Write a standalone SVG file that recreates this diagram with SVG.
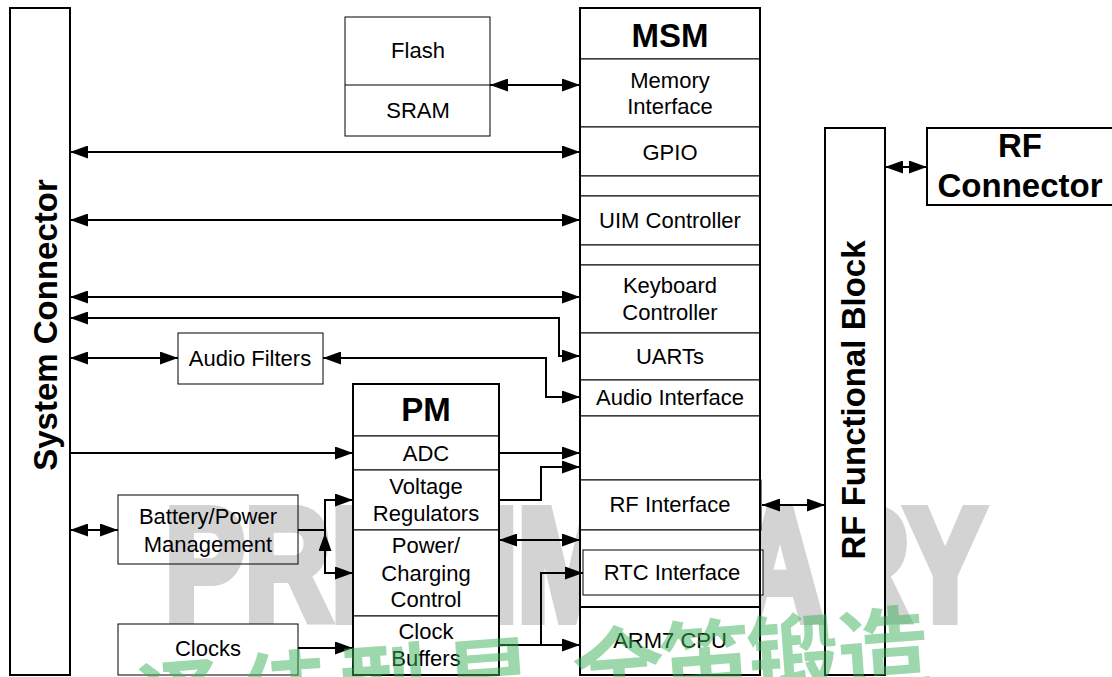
<svg xmlns="http://www.w3.org/2000/svg" width="1112" height="677" viewBox="0 0 1112 677">
<style>
.box{fill:#fff;stroke:#000;stroke-width:1}
.open{fill:none;stroke:#000;stroke-width:1}
.thick{fill:#fff;stroke:#000;stroke-width:2}
.frame{fill:none;stroke:#000;stroke-width:2}
.t{font-family:"Liberation Sans",Arial,sans-serif;font-size:22px;text-anchor:middle;fill:#000}
.b{font-weight:bold;font-size:33px}
.c{fill:none;stroke:#000;stroke-width:2}
.wm{font-family:"Liberation Sans",Arial,sans-serif;font-weight:bold;font-size:160px;fill:#d3d3d3;stroke:#d3d3d3;stroke-width:10;stroke-linejoin:miter}
.cn{font-family:"Noto Sans CJK SC",sans-serif;font-weight:bold;font-size:92px;fill:#3cb35a;opacity:0.5}
</style>
<defs>
<marker id="ah" markerUnits="userSpaceOnUse" markerWidth="18" markerHeight="13" refX="18" refY="6.5" orient="auto-start-reverse">
<path d="M0,0 L18,6.5 L0,13 z" fill="#000"/>
</marker>
</defs>
<rect width="1112" height="677" fill="#fff"/>
<text class="wm" x="165" y="620" textLength="820" lengthAdjust="spacingAndGlyphs">PRELIMINARY</text>

<g id="system-connector">
<rect class="thick" x="10" y="8" width="60" height="667"/>
<text class="t b" transform="translate(57,325) rotate(-90)">System Connector</text>
</g>

<g id="memory">
<rect class="box" x="345" y="17" width="145" height="119"/>
<line x1="345" y1="85" x2="490" y2="85" stroke="#000" stroke-width="1"/>
<text class="t" x="418" y="58">Flash</text>
<text class="t" x="418" y="118">SRAM</text>
</g>

<g id="msm">
<rect class="box" x="580" y="8" width="180" height="51"/>
<text class="t b" x="670" y="47">MSM</text>
<rect class="box" x="580" y="59" width="180" height="68"/>
<text class="t" x="670" y="88">Memory</text>
<text class="t" x="670" y="114">Interface</text>
<rect class="box" x="580" y="127" width="180" height="49"/>
<text class="t" x="670" y="160">GPIO</text>
<rect class="box" x="580" y="176" width="180" height="20"/>
<rect class="box" x="580" y="196" width="180" height="49"/>
<text class="t" x="670" y="228">UIM Controller</text>
<rect class="box" x="580" y="245" width="180" height="20"/>
<rect class="box" x="580" y="265" width="180" height="68"/>
<text class="t" x="670" y="293">Keyboard</text>
<text class="t" x="670" y="320">Controller</text>
<rect class="box" x="580" y="333" width="180" height="47"/>
<text class="t" x="670" y="364">UARTs</text>
<rect class="box" x="580" y="380" width="180" height="36"/>
<text class="t" x="670" y="405">Audio Interface</text>
<rect class="box" x="580" y="416" width="180" height="64"/>
<rect class="box" x="580" y="480" width="181" height="50"/>
<text class="t" x="670" y="512">RF Interface</text>
<rect class="box" x="580" y="530" width="180" height="77"/>
<rect class="box" x="583" y="550" width="180" height="45"/>
<text class="t" x="672" y="580">RTC Interface</text>
<rect class="thick" x="580" y="607" width="180" height="68"/>
<text class="t" x="670" y="648">ARM7 CPU</text>
<rect class="frame" x="580" y="8" width="180" height="667"/>
</g>

<g id="audio-filters">
<rect class="box" x="178" y="333" width="145" height="51"/>
<text class="t" x="250" y="366">Audio Filters</text>
</g>

<g id="pm">
<rect class="box" x="353" y="384" width="146" height="52"/>
<text class="t b" x="426" y="421">PM</text>
<rect class="box" x="353" y="436" width="146" height="34"/>
<text class="t" x="426" y="461">ADC</text>
<rect class="box" x="353" y="470" width="146" height="60"/>
<text class="t" x="426" y="494">Voltage</text>
<text class="t" x="426" y="521">Regulators</text>
<rect class="box" x="353" y="530" width="146" height="86"/>
<text class="t" x="426" y="553">Power/</text>
<text class="t" x="426" y="581">Charging</text>
<text class="t" x="426" y="607">Control</text>
<rect class="box" x="353" y="616" width="146" height="59"/>
<text class="t" x="426" y="639">Clock</text>
<text class="t" x="426" y="666">Buffers</text>
<rect class="frame" x="353" y="384" width="146" height="291"/>
</g>

<g id="battery">
<rect class="open" x="118" y="495" width="180" height="69"/>
<text class="t" x="208" y="524">Battery/Power</text>
<text class="t" x="208" y="552">Management</text>
</g>

<g id="clocks">
<rect class="box" x="118" y="624" width="180" height="51"/>
<text class="t" x="208" y="656">Clocks</text>
</g>

<g id="rf-block">
<rect class="thick" x="825" y="128" width="60" height="547"/>
<text class="t b" transform="translate(865,400) rotate(-90)">RF Functional Block</text>
</g>

<g id="rf-connector">
<rect class="thick" x="927" y="128" width="186" height="77"/>
<text class="t b" x="1020" y="157">RF</text>
<text class="t b" x="1020" y="197">Connector</text>
</g>

<g id="connectors">
<path class="c" d="M490,85 H580" marker-start="url(#ah)" marker-end="url(#ah)"/>
<path class="c" d="M70,152 H580" marker-start="url(#ah)" marker-end="url(#ah)"/>
<path class="c" d="M70,220 H580" marker-start="url(#ah)" marker-end="url(#ah)"/>
<path class="c" d="M70,297 H580" marker-start="url(#ah)" marker-end="url(#ah)"/>
<path class="c" d="M70,318 H559 V356 H580" marker-start="url(#ah)" marker-end="url(#ah)"/>
<path class="c" d="M70,358 H178" marker-start="url(#ah)" marker-end="url(#ah)"/>
<path class="c" d="M323,358 H546 V397 H580" marker-start="url(#ah)" marker-end="url(#ah)"/>
<path class="c" d="M70,453 H353" marker-end="url(#ah)"/>
<path class="c" d="M499,453 H580" marker-end="url(#ah)"/>
<path class="c" d="M499,500 H541 V467 H580" marker-end="url(#ah)"/>
<path class="c" d="M70,530 H118" marker-start="url(#ah)" marker-end="url(#ah)"/>
<path class="c" d="M298,530 H325"/>
<path class="c" d="M353,500 H325 V573 H353" marker-start="url(#ah)" marker-end="url(#ah)"/>
<path class="c" d="M325,560 V533" marker-end="url(#ah)"/>
<path class="c" d="M298,648 H353" marker-end="url(#ah)"/>
<path class="c" d="M499,540 H580" marker-start="url(#ah)" marker-end="url(#ah)"/>
<path class="c" d="M499,645 H580" marker-end="url(#ah)"/>
<path class="c" d="M541,645 V573 H583" marker-end="url(#ah)"/>
<path class="c" d="M762,505 H825" marker-start="url(#ah)" marker-end="url(#ah)"/>
<path class="c" d="M885,167 H927" marker-start="url(#ah)" marker-end="url(#ah)"/>
</g>

<text class="cn" x="135 240 340 445 575 662 750 840" y="708" transform="rotate(-4.2 560 700)">泽佳型显全笛锻造</text>
</svg>
